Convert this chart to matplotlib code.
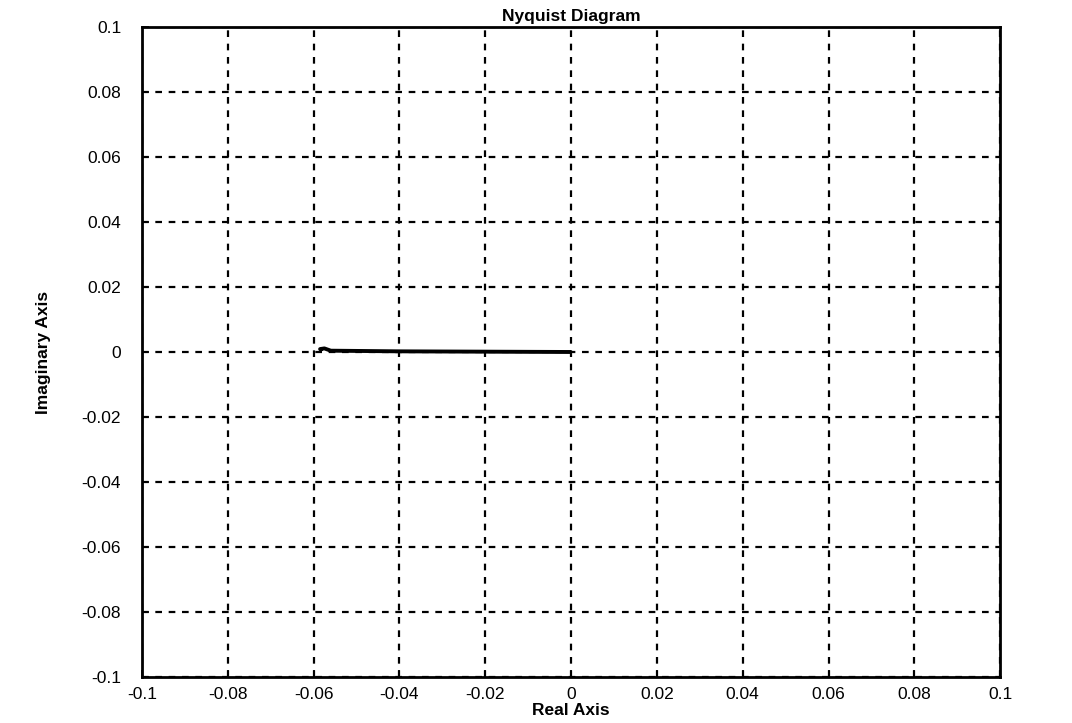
import numpy as np
import matplotlib.pyplot as plt

# Nyquist locus points (real, imaginary)
re_part = [-0.0580, -0.0585, -0.0575, -0.0560, -0.0400, -0.0200, 0.0]
im_part = [0.0003, 0.0009, 0.0011, 0.0004, 0.0002, 0.0001, 0.0]

xticks = [-0.1, -0.08, -0.06, -0.04, -0.02, 0, 0.02, 0.04, 0.06, 0.08, 0.1]
yticks = [-0.1, -0.08, -0.06, -0.04, -0.02, 0, 0.02, 0.04, 0.06, 0.08, 0.1]
tick_labels = ['-0.1', '-0.08', '-0.06', '-0.04', '-0.02', '0',
               '0.02', '0.04', '0.06', '0.08', '0.1']

plt.rcParams['font.family'] = ['Liberation Sans', 'DejaVu Sans']

fig = plt.figure(figsize=(10.72, 7.23), dpi=100)
ax = fig.add_axes([0.1325, 0.0636, 0.8005, 0.8991])

ax.plot(re_part, im_part, color='black', linewidth=2.8, solid_capstyle='butt')

ax.set_xlim(-0.1, 0.1)
ax.set_ylim(-0.1, 0.1)
ax.set_xticks(xticks)
ax.set_yticks(yticks)
ax.set_xticklabels(tick_labels)
ax.set_yticklabels(tick_labels)
ax.tick_params(direction='in', length=5, width=1.2, labelsize=12.5)
ax.tick_params(axis='x', pad=7)
ax.tick_params(axis='y', pad=15)

ax.grid(True, color='black', linestyle=(0, (3, 3)), linewidth=1.6)
for s in ax.spines.values():
    s.set_linewidth(2)

ax.set_title('Nyquist Diagram', fontsize=12.5, fontweight='bold', pad=4)
ax.set_xlabel('Real Axis', fontsize=12.5, fontweight='bold', labelpad=1)
ax.set_ylabel('Imaginary Axis', fontsize=12.5, fontweight='bold', labelpad=22)

fig.savefig('out.png', dpi=100)
